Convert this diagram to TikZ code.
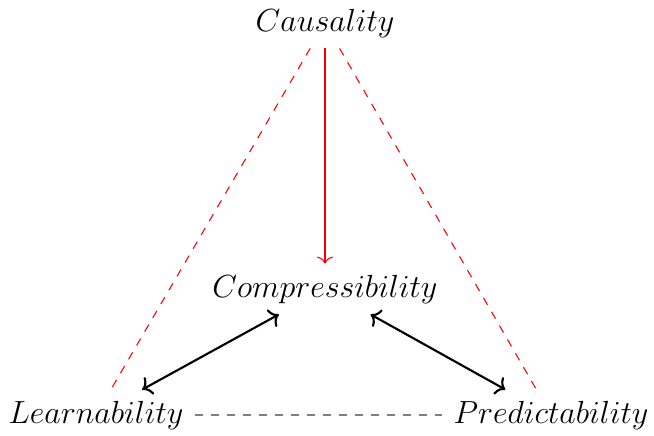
\documentclass[tikz,border=0pt,12pt]{standalone}
\usetikzlibrary{arrows.meta}
\begin{document}
\begin{tikzpicture}[x=0.375pt,y=-0.375pt,
  lbl/.style={font=\fontsize{12}{14.4}\selectfont},
  dep/.style={red,dashed},
  cause/.style={red,-{To[width=6pt,length=2.6pt]}},
  mutual/.style={thick,{To[width=7.4pt,length=3.3pt]}-{To[width=7.4pt,length=3.3pt]}},
  weak/.style={gray,dashed}]
\useasboundingbox (0,0) rectangle (654,435);
\node[lbl] (cau) at (325,23) {$Causality$};
\node[lbl] (com) at (325,289) {$Compressibility$};
\node[lbl] (lea) at (96,415) {$Learnability$};
\node[lbl] (pre) at (551,415) {$Predictability$};
\draw[dep] (cau) -- (lea);
\draw[dep] (cau) -- (pre);
\draw[cause] (cau) -- (com);
\draw[mutual] (lea) -- (com);
\draw[mutual] (pre) -- (com);
\draw[weak] (lea) -- (pre);
\end{tikzpicture}
\end{document}
